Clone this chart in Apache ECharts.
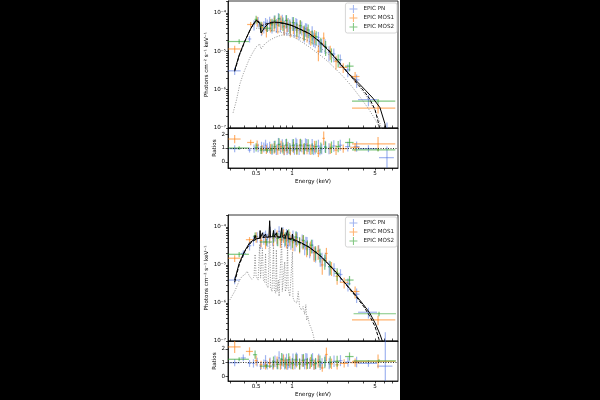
<!DOCTYPE html>
<html>
<head>
<meta charset="utf-8">
<script src="https://cdn.jsdelivr.net/npm/echarts@6/dist/echarts.min.js"></script>
<style>
  html, body { margin: 0; padding: 0; background: #000; }
  #page { position: absolute; left: 200px; top: 0; width: 200px; height: 400px; background: #fff; }
  #chart { position: absolute; left: 0; top: 0; width: 600px; height: 400px; }
</style>
</head>
<body>
<div id="page"></div>
<div id="chart"></div>
<script>
// rows: [energy keV, half bin width, flux, flux err, ratio, ratio err]
const pnTop = [
  [0.33, 0.04, 3.1e-6, 0.7e-6, 0.95, 0.25],
  [0.44, 0.015, 2.1e-5, 0.4e-5, 0.85, 0.18],
  [0.48, 0.012, 5.0e-5, 1.5e-5, 0.95, 0.3],
  [0.52, 0.012, 6.0e-5, 1.8e-5, 1.0, 0.3],
  [0.555, 0.012, 3.9e-5, 1.4e-5, 1.1, 0.35],
  [0.58, 0.012, 4.5e-5, 1.6e-5, 1.05, 0.35],
  [0.60, 0.01, 5.6e-5, 1.8e-5, 1.2, 0.4],
  [0.62, 0.012, 5.0e-5, 1.8e-5, 1.0, 0.35],
  [0.65, 0.012, 5.8e-5, 2.2e-5, 1.05, 0.4],
  [0.68, 0.012, 4.8e-5, 1.9e-5, 0.85, 0.35],
  [0.71, 0.012, 6.2e-5, 2.4e-5, 1.08, 0.42],
  [0.74, 0.012, 5.0e-5, 2.0e-5, 0.87, 0.38],
  [0.77, 0.013, 7.2e-5, 2.7e-5, 1.28, 0.45],
  [0.80, 0.013, 5.4e-5, 2.2e-5, 0.97, 0.4],
  [0.83, 0.013, 6.5e-5, 2.5e-5, 1.18, 0.45],
  [0.86, 0.014, 4.6e-5, 1.9e-5, 0.86, 0.38],
  [0.89, 0.014, 6.3e-5, 2.4e-5, 1.2, 0.45],
  [0.91, 0.01, 4.4e-5, 1.8e-5, 0.85, 0.36],
  [0.93, 0.015, 5.3e-5, 2.1e-5, 1.03, 0.42],
  [0.97, 0.016, 4.3e-5, 1.8e-5, 0.88, 0.38],
  [1.01, 0.017, 5.6e-5, 2.2e-5, 1.18, 0.45],
  [1.05, 0.018, 4.0e-5, 1.7e-5, 0.89, 0.38],
  [1.08, 0.012, 5.4e-5, 2.0e-5, 1.3, 0.45],
  [1.10, 0.02, 5.0e-5, 2.0e-5, 1.18, 0.45],
  [1.15, 0.02, 3.5e-5, 1.5e-5, 0.88, 0.38],
  [1.21, 0.022, 4.3e-5, 1.7e-5, 1.15, 0.45],
  [1.27, 0.024, 3.0e-5, 1.3e-5, 0.88, 0.38],
  [1.30, 0.015, 3.9e-5, 1.5e-5, 1.25, 0.45],
  [1.33, 0.025, 3.8e-5, 1.5e-5, 1.2, 0.45],
  [1.40, 0.028, 2.6e-5, 1.1e-5, 0.9, 0.38],
  [1.48, 0.03, 3.2e-5, 1.3e-5, 1.2, 0.45],
  [1.52, 0.02, 2.2e-5, 0.9e-5, 0.85, 0.36],
  [1.57, 0.033, 2.1e-5, 0.9e-5, 0.92, 0.38],
  [1.67, 0.036, 2.3e-5, 0.9e-5, 1.15, 0.45],
  [1.72, 0.02, 1.5e-5, 0.6e-5, 0.82, 0.35],
  [1.78, 0.04, 1.5e-5, 0.6e-5, 0.93, 0.38],
  [1.90, 0.045, 1.45e-5, 0.6e-5, 1.1, 0.42],
  [2.05, 0.05, 9.5e-6, 4.0e-6, 0.95, 0.4],
  [2.25, 0.07, 8.5e-6, 3.3e-6, 1.15, 0.42],
  [2.55, 0.1, 6.0e-6, 2.2e-6, 1.2, 0.4],
  [2.95, 0.15, 3.3e-6, 1.2e-6, 1.1, 0.35],
  [3.5, 0.2, 1.8e-6, 0.7e-6, 1.1, 0.38],
  [4.4, 0.8, 5.5e-7, 1.8e-7, 0.95, 0.25],
  [6.3, 0.9, 8.0e-8, 6.0e-8, 0.3, 0.8]
];
const mos1Top = [
  [0.33, 0.04, 1.15e-5, 0.25e-5, 1.65, 0.3],
  [0.45, 0.03, 5.0e-5, 0.8e-5, 1.4, 0.2],
  [0.51, 0.015, 6.2e-5, 1.8e-5, 1.2, 0.35],
  [0.56, 0.015, 4.2e-5, 1.5e-5, 0.9, 0.32],
  [0.61, 0.015, 3.6e-5, 1.3e-5, 0.88, 0.32],
  [0.66, 0.015, 5.0e-5, 1.9e-5, 0.92, 0.36],
  [0.71, 0.015, 5.5e-5, 2.1e-5, 0.97, 0.38],
  [0.76, 0.016, 4.8e-5, 1.9e-5, 0.87, 0.36],
  [0.81, 0.017, 6.0e-5, 2.4e-5, 1.1, 0.42],
  [0.86, 0.018, 4.4e-5, 1.8e-5, 0.85, 0.36],
  [0.91, 0.019, 5.2e-5, 2.0e-5, 1.02, 0.4],
  [0.97, 0.02, 4.0e-5, 1.7e-5, 0.83, 0.36],
  [1.03, 0.022, 4.7e-5, 1.9e-5, 1.03, 0.4],
  [1.10, 0.024, 3.6e-5, 1.5e-5, 0.86, 0.36],
  [1.17, 0.026, 4.6e-5, 1.8e-5, 1.18, 0.45],
  [1.25, 0.028, 3.2e-5, 1.3e-5, 0.92, 0.38],
  [1.34, 0.03, 3.0e-5, 1.3e-5, 0.95, 0.4],
  [1.44, 0.033, 2.4e-5, 1.0e-5, 0.88, 0.38],
  [1.55, 0.036, 2.6e-5, 1.0e-5, 1.1, 0.42],
  [1.67, 0.04, 1.0e-5, 0.45e-5, 0.62, 0.28],
  [1.85, 0.045, 2.2e-5, 0.9e-5, 1.7, 0.5],
  [2.1, 0.06, 1.0e-5, 0.4e-5, 0.95, 0.38],
  [2.35, 0.08, 5.5e-6, 2.2e-6, 0.85, 0.35],
  [2.7, 0.22, 3.8e-6, 1.1e-6, 0.95, 0.3],
  [3.4, 0.3, 2.2e-6, 0.7e-6, 1.05, 0.3],
  [5.3, 2.1, 3.3e-7, 0.9e-7, 1.3, 0.5]
];
const mos2Top = [
  [0.36, 0.075, 1.8e-5, 0.25e-5, 1.0, 0.12],
  [0.50, 0.015, 6.8e-5, 1.6e-5, 1.05, 0.3],
  [0.55, 0.015, 4.5e-5, 1.4e-5, 0.85, 0.28],
  [0.62, 0.05, 4.0e-5, 0.8e-5, 0.85, 0.15],
  [0.68, 0.018, 5.2e-5, 1.9e-5, 0.95, 0.36],
  [0.72, 0.018, 6.3e-5, 2.3e-5, 1.1, 0.42],
  [0.78, 0.02, 7.0e-5, 2.6e-5, 1.25, 0.45],
  [0.84, 0.02, 5.5e-5, 2.1e-5, 1.0, 0.4],
  [0.90, 0.022, 6.4e-5, 2.4e-5, 1.22, 0.45],
  [0.96, 0.024, 4.8e-5, 1.9e-5, 0.97, 0.4],
  [1.03, 0.026, 5.6e-5, 2.2e-5, 1.2, 0.45],
  [1.10, 0.028, 4.0e-5, 1.6e-5, 0.95, 0.4],
  [1.18, 0.03, 4.7e-5, 1.8e-5, 1.22, 0.45],
  [1.27, 0.032, 3.3e-5, 1.4e-5, 0.96, 0.4],
  [1.37, 0.035, 3.6e-5, 1.4e-5, 1.18, 0.45],
  [1.48, 0.04, 2.5e-5, 1.0e-5, 0.95, 0.4],
  [1.60, 0.045, 2.4e-5, 0.95e-5, 1.1, 0.42],
  [1.75, 0.05, 1.6e-5, 0.65e-5, 1.0, 0.4],
  [1.92, 0.06, 1.3e-5, 0.55e-5, 1.05, 0.42],
  [2.15, 0.08, 8.5e-6, 3.4e-6, 1.05, 0.42],
  [2.45, 0.12, 6.0e-6, 2.2e-6, 1.1, 0.4],
  [3.05, 0.25, 4.1e-6, 1.1e-6, 1.4, 0.3],
  [5.3, 2.1, 5.0e-7, 0.7e-7, 0.87, 0.12]
];
const pnBot = [
  [0.33, 0.035, 4.0e-6, 0.9e-6, 1.0, 0.25],
  [0.39, 0.02, 2.0e-5, 0.4e-5, 1.35, 0.25],
  [0.44, 0.015, 3.2e-5, 0.8e-5, 0.95, 0.25],
  [0.475, 0.012, 4.4e-5, 1.3e-5, 0.95, 0.3],
  [0.51, 0.012, 5.5e-5, 1.7e-5, 1.05, 0.32],
  [0.545, 0.012, 4.0e-5, 1.4e-5, 0.75, 0.28],
  [0.58, 0.012, 5.3e-5, 1.9e-5, 0.9, 0.34],
  [0.60, 0.01, 6.0e-5, 2.0e-5, 1.15, 0.4],
  [0.62, 0.012, 4.8e-5, 1.8e-5, 0.82, 0.32],
  [0.655, 0.012, 7.5e-5, 2.6e-5, 1.0, 0.38],
  [0.69, 0.012, 5.0e-5, 1.9e-5, 0.85, 0.34],
  [0.72, 0.012, 6.5e-5, 2.4e-5, 1.1, 0.42],
  [0.75, 0.012, 5.2e-5, 2.0e-5, 0.9, 0.38],
  [0.78, 0.013, 7.6e-5, 2.8e-5, 1.35, 0.48],
  [0.81, 0.013, 5.4e-5, 2.2e-5, 0.95, 0.4],
  [0.84, 0.013, 7.0e-5, 2.7e-5, 1.2, 0.45],
  [0.87, 0.014, 4.8e-5, 1.9e-5, 0.88, 0.38],
  [0.90, 0.014, 6.4e-5, 2.4e-5, 1.2, 0.45],
  [0.92, 0.01, 4.5e-5, 1.8e-5, 0.85, 0.36],
  [0.94, 0.015, 5.0e-5, 2.0e-5, 1.0, 0.4],
  [0.98, 0.016, 4.3e-5, 1.8e-5, 0.9, 0.38],
  [1.02, 0.017, 5.8e-5, 2.2e-5, 1.22, 0.45],
  [1.06, 0.018, 4.0e-5, 1.7e-5, 0.9, 0.38],
  [1.09, 0.012, 5.5e-5, 2.1e-5, 1.3, 0.45],
  [1.11, 0.02, 5.2e-5, 2.0e-5, 1.2, 0.45],
  [1.16, 0.02, 3.6e-5, 1.5e-5, 0.9, 0.38],
  [1.22, 0.022, 4.5e-5, 1.8e-5, 1.18, 0.45],
  [1.28, 0.024, 3.1e-5, 1.3e-5, 0.9, 0.38],
  [1.31, 0.015, 4.0e-5, 1.5e-5, 1.25, 0.45],
  [1.34, 0.025, 3.9e-5, 1.5e-5, 1.22, 0.45],
  [1.41, 0.028, 2.6e-5, 1.1e-5, 0.92, 0.38],
  [1.49, 0.03, 3.3e-5, 1.3e-5, 1.25, 0.45],
  [1.53, 0.02, 2.2e-5, 0.9e-5, 0.85, 0.36],
  [1.58, 0.033, 2.0e-5, 0.85e-5, 0.9, 0.38],
  [1.68, 0.036, 2.4e-5, 0.95e-5, 1.2, 0.45],
  [1.73, 0.02, 1.5e-5, 0.6e-5, 0.82, 0.35],
  [1.79, 0.04, 1.5e-5, 0.6e-5, 0.95, 0.38],
  [1.91, 0.045, 1.5e-5, 0.6e-5, 1.15, 0.42],
  [2.06, 0.05, 9.0e-6, 3.8e-6, 0.92, 0.4],
  [2.26, 0.07, 8.0e-6, 3.1e-6, 1.1, 0.42],
  [2.56, 0.1, 5.6e-6, 2.1e-6, 1.15, 0.4],
  [2.96, 0.15, 3.2e-6, 1.2e-6, 1.05, 0.35],
  [3.5, 0.2, 1.7e-6, 0.7e-6, 1.05, 0.38],
  [4.4, 0.8, 5.7e-7, 1.8e-7, 0.95, 0.25],
  [6.1, 0.9, 6.0e-8, 1.1e-7, 0.75, 2.0]
];
const mos1Bot = [
  [0.33, 0.04, 1.5e-5, 0.3e-5, 2.15, 0.45],
  [0.44, 0.03, 4.6e-5, 0.8e-5, 1.82, 0.3],
  [0.50, 0.015, 5.5e-5, 1.7e-5, 1.15, 0.35],
  [0.55, 0.015, 4.4e-5, 1.5e-5, 0.85, 0.3],
  [0.60, 0.015, 4.0e-5, 1.4e-5, 0.8, 0.3],
  [0.65, 0.015, 5.8e-5, 2.1e-5, 0.95, 0.36],
  [0.70, 0.015, 5.0e-5, 1.9e-5, 0.85, 0.34],
  [0.75, 0.016, 5.8e-5, 2.2e-5, 1.05, 0.4],
  [0.80, 0.017, 4.6e-5, 1.8e-5, 0.85, 0.36],
  [0.85, 0.018, 6.2e-5, 2.4e-5, 1.15, 0.44],
  [0.90, 0.019, 4.5e-5, 1.8e-5, 0.88, 0.38],
  [0.96, 0.02, 5.3e-5, 2.1e-5, 1.05, 0.42],
  [1.02, 0.022, 4.0e-5, 1.7e-5, 0.85, 0.36],
  [1.09, 0.024, 4.8e-5, 1.9e-5, 1.1, 0.44],
  [1.16, 0.026, 3.5e-5, 1.5e-5, 0.88, 0.38],
  [1.24, 0.028, 4.2e-5, 1.7e-5, 1.12, 0.44],
  [1.33, 0.03, 2.8e-5, 1.2e-5, 0.88, 0.38],
  [1.43, 0.033, 2.9e-5, 1.2e-5, 1.0, 0.42],
  [1.54, 0.036, 2.1e-5, 0.9e-5, 0.85, 0.36],
  [1.66, 0.04, 2.3e-5, 0.95e-5, 1.1, 0.44],
  [1.80, 0.045, 1.0e-5, 0.45e-5, 0.62, 0.28],
  [1.95, 0.05, 2.0e-5, 0.8e-5, 1.6, 0.5],
  [2.15, 0.06, 8.5e-6, 3.4e-6, 0.92, 0.38],
  [2.4, 0.08, 5.0e-6, 2.0e-6, 0.85, 0.35],
  [2.75, 0.22, 3.5e-6, 1.1e-6, 0.95, 0.3],
  [3.4, 0.3, 2.0e-6, 0.7e-6, 1.0, 0.3],
  [5.3, 2.1, 3.6e-7, 1.0e-7, 1.1, 0.5]
];
const mos2Bot = [
  [0.36, 0.075, 1.9e-5, 0.3e-5, 1.25, 0.15],
  [0.49, 0.02, 5.7e-5, 1.4e-5, 1.58, 0.3],
  [0.61, 0.07, 4.0e-5, 0.8e-5, 0.75, 0.15],
  [0.70, 0.02, 6.0e-5, 2.2e-5, 1.05, 0.4],
  [0.76, 0.02, 5.0e-5, 1.9e-5, 0.88, 0.36],
  [0.82, 0.02, 6.8e-5, 2.6e-5, 1.25, 0.46],
  [0.88, 0.022, 5.2e-5, 2.0e-5, 0.98, 0.4],
  [0.94, 0.024, 6.2e-5, 2.4e-5, 1.22, 0.46],
  [1.01, 0.026, 4.6e-5, 1.8e-5, 0.95, 0.4],
  [1.08, 0.028, 5.4e-5, 2.1e-5, 1.2, 0.46],
  [1.16, 0.03, 3.8e-5, 1.6e-5, 0.92, 0.4],
  [1.25, 0.032, 4.4e-5, 1.7e-5, 1.18, 0.46],
  [1.35, 0.035, 3.1e-5, 1.3e-5, 0.95, 0.4],
  [1.46, 0.04, 3.3e-5, 1.3e-5, 1.15, 0.46],
  [1.58, 0.045, 2.2e-5, 0.9e-5, 0.95, 0.4],
  [1.72, 0.05, 1.9e-5, 0.75e-5, 1.08, 0.44],
  [1.89, 0.06, 1.3e-5, 0.55e-5, 1.02, 0.42],
  [2.1, 0.08, 9.0e-6, 3.5e-6, 1.05, 0.42],
  [2.4, 0.12, 6.0e-6, 2.2e-6, 1.1, 0.4],
  [3.05, 0.25, 4.0e-6, 1.1e-6, 1.45, 0.3],
  [5.4, 2.1, 5.2e-7, 0.7e-7, 1.13, 0.12]
];

// model curves [energy, flux]
const modelTop = [[0.33,3.2e-6],[0.36,8.0e-6],[0.40,1.8e-5],[0.45,3.9e-5],[0.48,5.5e-5],[0.50,6.5e-5],[0.535,5.7e-5],[0.55,3.0e-5],[0.59,4.2e-5],[0.63,5.2e-5],[0.67,5.7e-5],[0.72,5.8e-5],[0.80,5.6e-5],[0.90,5.2e-5],[1.0,4.7e-5],[1.1,4.1e-5],[1.2,3.6e-5],[1.4,2.9e-5],[1.6,2.1e-5],[1.8,1.5e-5],[2.0,1.1e-5],[2.3,6.8e-6],[2.7,3.8e-6],[3.0,2.6e-6],[3.3,2.0e-6],[3.7,1.4e-6],[4.2,9.3e-7],[4.8,6.0e-7],[5.5,3.4e-7],[6.05,1.3e-7],[6.2,9.0e-8]];
const dashTop = [[0.33,3.0e-6],[0.36,7.6e-6],[0.40,1.75e-5],[0.45,3.9e-5],[0.50,6.3e-5],[0.53,5.5e-5],[0.56,4.7e-5],[0.62,5.3e-5],[0.70,5.6e-5],[0.80,5.5e-5],[0.90,5.1e-5],[1.0,4.7e-5],[1.2,3.7e-5],[1.4,2.9e-5],[1.7,1.85e-5],[2.0,1.15e-5],[2.5,5.2e-6],[3.0,2.6e-6],[3.5,1.5e-6],[4.0,9.5e-7],[4.5,5.8e-7],[5.0,3.0e-7],[5.3,1.5e-7],[5.5,9.0e-8]];
const compATop = [[0.32,2.5e-7],[0.34,5.0e-7],[0.365,1.4e-6],[0.39,2.6e-6],[0.415,4.2e-6],[0.44,6.5e-6],[0.47,9.4e-6],[0.50,1.3e-5],[0.535,1.55e-5],[0.55,1.15e-5],[0.59,1.55e-5],[0.65,1.95e-5],[0.72,2.3e-5],[0.80,2.6e-5],[0.88,2.7e-5],[1.0,2.5e-5],[1.1,2.1e-5],[1.23,1.7e-5],[1.4,1.3e-5],[1.6,9.5e-6],[1.8,7.2e-6],[2.0,5.5e-6],[2.3,3.6e-6],[2.7,2.2e-6],[3.2,1.2e-6],[3.8,6.0e-7],[4.4,3.2e-7],[5.0,1.7e-7],[5.4,1.1e-7],[5.6,9.0e-8]];
const compBTop = [[0.50,4.0e-5],[0.56,3.8e-5],[0.62,3.6e-5],[0.70,3.4e-5],[0.80,3.15e-5],[0.92,2.9e-5],[1.1,2.45e-5],[1.35,1.95e-5],[1.7,1.3e-5],[2.2,6.8e-6],[2.8,3.2e-6],[3.3,1.8e-6],[3.8,1.05e-6],[4.3,6.2e-7],[4.9,3.2e-7],[5.4,1.6e-7],[5.7,9.0e-8]];
const modelBot = [[0.33,4.0e-6],[0.36,1.1e-5],[0.40,2.3e-5],[0.44,3.8e-5],[0.48,4.6e-5],[0.49,6.0e-5],[0.50,4.8e-5],[0.535,5.1e-5],[0.54,8.0e-5],[0.545,5.2e-5],[0.56,5.3e-5],[0.565,7.0e-5],[0.575,5.3e-5],[0.595,5.3e-5],[0.60,6.5e-5],[0.61,5.3e-5],[0.64,5.4e-5],[0.65,1.45e-4],[0.66,5.5e-5],[0.69,5.5e-5],[0.70,8.0e-5],[0.71,5.5e-5],[0.735,5.5e-5],[0.74,7.0e-5],[0.75,5.5e-5],[0.80,5.4e-5],[0.82,9.5e-5],[0.83,5.4e-5],[0.86,5.3e-5],[0.87,6.2e-5],[0.88,5.2e-5],[0.91,5.1e-5],[0.92,8.0e-5],[0.93,5.0e-5],[1.0,4.8e-5],[1.01,6.5e-5],[1.02,4.8e-5],[1.1,4.3e-5],[1.2,3.8e-5],[1.4,2.9e-5],[1.6,2.1e-5],[1.8,1.55e-5],[2.0,1.1e-5],[2.3,7.0e-6],[2.7,3.8e-6],[3.0,2.6e-6],[3.5,1.5e-6],[4.0,9.0e-7],[4.5,5.5e-7],[5.0,3.0e-7],[5.5,1.5e-7],[5.9,8.0e-8]];
const dashBot = [[0.33,3.5e-6],[0.36,1.0e-5],[0.40,2.2e-5],[0.45,3.8e-5],[0.50,4.8e-5],[0.60,5.4e-5],[0.70,5.5e-5],[0.80,5.3e-5],[0.90,5.0e-5],[1.0,4.6e-5],[1.2,3.7e-5],[1.4,2.9e-5],[1.7,1.85e-5],[2.0,1.1e-5],[2.5,5.0e-6],[3.0,2.5e-6],[3.5,1.4e-6],[4.0,8.2e-7],[4.5,4.6e-7],[5.0,2.4e-7],[5.4,1.1e-7],[5.6,8.0e-8]];
const apecBot = [[0.30,1.2e-6],[0.33,2.0e-6],[0.36,3.8e-6],[0.38,5.0e-6],[0.40,5.5e-6],[0.42,6.8e-6],[0.44,5.0e-6],[0.46,4.2e-6],[0.48,4.8e-6],[0.49,1.9e-5],[0.50,5.0e-6],[0.52,4.0e-6],[0.535,3.5e-5],[0.545,4.5e-6],[0.56,4.0e-6],[0.565,2.8e-5],[0.575,4.0e-6],[0.59,3.5e-6],[0.60,2.0e-5],[0.61,3.0e-6],[0.63,2.5e-6],[0.65,1.0e-4],[0.66,2.6e-6],[0.68,2.0e-6],[0.70,3.2e-5],[0.71,2.2e-6],[0.73,1.8e-6],[0.74,2.5e-5],[0.75,2.0e-6],[0.77,4.0e-6],[0.78,1.5e-6],[0.80,1.6e-6],[0.82,5.0e-5],[0.83,2.0e-6],[0.85,1.8e-6],[0.87,1.2e-5],[0.88,2.0e-6],[0.90,2.5e-6],[0.92,3.5e-5],[0.93,2.4e-6],[0.96,1.5e-6],[1.01,2.2e-5],[1.02,1.4e-6],[1.05,1.1e-6],[1.10,1.0e-6],[1.13,2.0e-6],[1.16,8.0e-7],[1.20,6.5e-7],[1.24,8.0e-7],[1.28,5.0e-7],[1.31,9.0e-7],[1.33,3.5e-7],[1.36,4.5e-7],[1.40,2.8e-7],[1.45,2.2e-7],[1.50,1.6e-7],[1.55,1.0e-7],[1.60,6.0e-8]];

const xLabelVals = [0.5, 1, 5];
const xTickVals = [0.3, 0.4, 0.5, 0.6, 0.7, 0.8, 0.9, 1, 2, 3, 4, 5, 6, 7];
const yTickVals = [1e-7, 2e-7, 3e-7, 4e-7, 5e-7, 6e-7, 7e-7, 8e-7, 9e-7, 1e-6, 2e-6, 3e-6, 4e-6, 5e-6, 6e-6, 7e-6, 8e-6, 9e-6,
  1e-5, 2e-5, 3e-5, 4e-5, 5e-5, 6e-5, 7e-5, 8e-5, 9e-5, 1e-4, 2e-4];
const yLabelVals = [1e-7, 1e-6, 1e-5, 1e-4];
const ratioTicks = [0, 1, 2];

const xMin = 0.29, xMax = 7.8;
const fluxMin = 1e-7, fluxMax = 2.05e-4;

const colPN = 'rgba(65,105,225,0.5)';
const colM1 = 'rgba(255,127,14,0.6)';
const colM2 = 'rgba(44,160,44,0.6)';
const font = 'DejaVu Sans';
const fs = 5.6;
const sup = { '-': '⁻', '0': '⁰', '1': '¹', '2': '²', '3': '³', '4': '⁴', '5': '⁵', '6': '⁶', '7': '⁷', '8': '⁸', '9': '⁹' };

const chart = echarts.init(document.getElementById('chart'));

const grids = [
  { left: 228, top: 1, width: 170, height: 127 },
  { left: 228, top: 128, width: 170, height: 40 },
  { left: 228, top: 215, width: 170, height: 126 },
  { left: 228, top: 341, width: 170, height: 40 }
].map((g) => Object.assign({ show: true, borderColor: '#000', borderWidth: 0.8, backgroundColor: 'transparent' }, g));

const axisLine = { show: true, onZero: false, lineStyle: { color: '#000', width: 0.8 } };

const xAxes = grids.map((g, i) => {
  const bottomPanel = i % 2 === 1;
  return {
    type: 'log', logBase: 10, gridIndex: i, min: xMin, max: xMax,
    axisLine: axisLine,
    splitLine: { show: false },
    axisTick: { show: true, inside: !bottomPanel, length: 2.5, lineStyle: { color: '#000', width: 0.7 }, customValues: xTickVals },
    axisLabel: {
      show: bottomPanel, customValues: xLabelVals, margin: 3,
      fontFamily: font, fontSize: fs, color: '#000',
      formatter: (v) => String(Math.round(v * 10) / 10)
    },
    name: bottomPanel ? 'Energy (keV)' : '',
    nameLocation: 'middle', nameGap: 11,
    nameTextStyle: { fontFamily: font, fontSize: fs, color: '#000' }
  };
});

const yAxes = grids.map((g, i) => {
  if (i % 2 === 0) {
    return {
      type: 'log', logBase: 10, gridIndex: i, min: fluxMin, max: fluxMax,
      axisLine: axisLine, splitLine: { show: false },
      axisTick: { show: true, length: 2, lineStyle: { color: '#000', width: 0.7 }, customValues: yTickVals },
      axisLabel: {
        customValues: yLabelVals, margin: 2, fontFamily: font, fontSize: fs, color: '#000',
        formatter: (v) => '10' + String(Math.round(Math.log10(v))).split('').map((c) => sup[c]).join('')
      },
      name: 'Photons cm⁻² s⁻¹ keV⁻¹', nameLocation: 'middle', nameGap: 18,
      nameTextStyle: { fontFamily: font, fontSize: fs, color: '#000' }
    };
  }
  return {
    type: 'value', gridIndex: i,
    min: i === 1 ? -0.45 : -0.33, max: i === 1 ? 2.45 : 2.58,
    axisLine: axisLine, splitLine: { show: false },
    axisTick: { show: true, length: 2.5, lineStyle: { color: '#000', width: 0.7 }, customValues: ratioTicks },
    axisLabel: { customValues: ratioTicks, margin: 3, fontFamily: font, fontSize: fs, color: '#000' },
    name: 'Ratios', nameLocation: 'middle', nameGap: 9,
    nameTextStyle: { fontFamily: font, fontSize: fs, color: '#000' }
  };
});

function errorBars(yDim, eDim, floor) {
  return function (params, api) {
    const e = api.value(0), de = api.value(1);
    const y = api.value(yDim), dy = api.value(eDim);
    let lo = y - dy;
    if (lo <= 0 && floor) lo = floor * 0.5;
    const a = api.coord([e - de, y]), b = api.coord([e + de, y]);
    const t = api.coord([e, y + dy]), u = api.coord([e, lo]);
    const style = { stroke: api.visual('color'), lineWidth: 1.2 };
    return {
      type: 'group',
      children: [
        { type: 'line', shape: { x1: a[0], y1: a[1], x2: b[0], y2: b[1] }, style: style },
        { type: 'line', shape: { x1: t[0], y1: t[1], x2: u[0], y2: u[1] }, style: style }
      ]
    };
  };
}

const series = [];
const panels = [
  { sets: [pnTop, mos1Top, mos2Top], lines: [[modelTop, 'solid'], [dashTop, 'dashed'], [compATop, 'dotted'], [compBTop, 'dotted']] },
  { sets: [pnBot, mos1Bot, mos2Bot], lines: [[modelBot, 'solid'], [dashBot, 'dashed'], [apecBot, 'dotted']] }
];
const names = ['EPIC PN', 'EPIC MOS1', 'EPIC MOS2'];
const cols = [colPN, colM1, colM2];

panels.forEach((p, k) => {
  const gMain = k * 2, gRatio = k * 2 + 1;
  p.sets.forEach((rows, j) => {
    series.push({
      type: 'custom', name: names[j], xAxisIndex: gMain, yAxisIndex: gMain,
      renderItem: errorBars(2, 3, fluxMin), data: rows, encode: { x: 0, y: 2 },
      itemStyle: { color: cols[j] }, clip: true, z: 2
    });
    series.push({
      type: 'custom', name: names[j], xAxisIndex: gRatio, yAxisIndex: gRatio,
      renderItem: errorBars(4, 5, 0), data: rows, encode: { x: 0, y: 4 },
      itemStyle: { color: cols[j] }, clip: true, z: 2
    });
  });
  p.lines.forEach(([d, kind]) => {
    const dotted = kind === 'dotted';
    series.push({
      type: 'line', xAxisIndex: gMain, yAxisIndex: gMain, data: d,
      showSymbol: false, symbol: 'none', clip: true, silent: true, z: dotted ? 3 : 4,
      lineStyle: {
        color: dotted ? '#777' : '#000', width: dotted ? 0.8 : 1,
        type: kind === 'solid' ? 'solid' : (dotted ? [1, 1.5] : [3.5, 1.6])
      }
    });
  });
  series.push({
    type: 'line', xAxisIndex: gRatio, yAxisIndex: gRatio, data: [], silent: true,
    markLine: {
      silent: true, symbol: 'none', label: { show: false },
      lineStyle: { color: '#000', width: 0.8, type: [1, 1.5] },
      data: [{ yAxis: 1 }]
    }
  });
});

const legendBase = {
  orient: 'vertical', right: 203, itemWidth: 8, itemHeight: 8, itemGap: 1,
  icon: 'path://M3.5,0H4.5V3.5H8V4.5H4.5V8H3.5V4.5H0V3.5H3.5Z',
  padding: [2, 3, 2, 4], borderColor: '#ccc', borderWidth: 0.8, borderRadius: 2,
  backgroundColor: 'rgba(255,255,255,0.8)',
  textStyle: { fontFamily: font, fontSize: fs, color: '#222', padding: [0, 0, 0, 1] },
  selectedMode: false, data: names
};

chart.setOption({
  animation: false,
  grid: grids,
  xAxis: xAxes,
  yAxis: yAxes,
  legend: [Object.assign({ top: 3 }, legendBase), Object.assign({ top: 217 }, legendBase)],
  series: series
});
</script>
</body>
</html>
